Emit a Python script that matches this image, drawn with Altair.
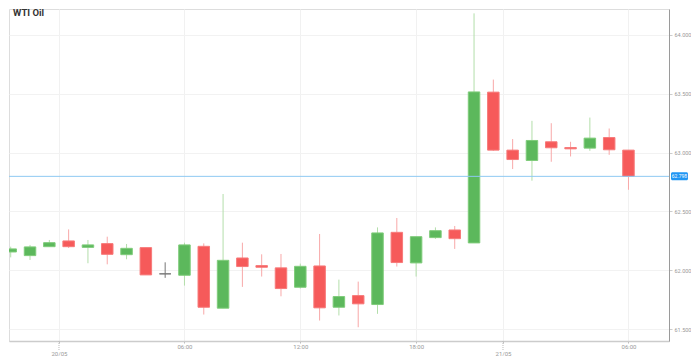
import altair as alt
import pandas as pd

# hourly candles, index 0..32
opens  = [62.155, 62.124, 62.200, 62.249, 62.194, 62.226, 62.132, 62.192, 61.969, 61.957,
          62.203, 61.677, 62.104, 62.039, 62.020, 61.855, 62.036, 61.685, 61.784, 61.708,
          62.322, 62.062, 62.277, 62.342, 62.232, 63.514, 63.021, 62.933, 63.092, 63.043,
          63.038, 63.128, 63.021]
highs  = [62.200, 62.215, 62.257, 62.347, 62.257, 62.285, 62.223, 62.192, 62.067, 62.234,
          62.228, 62.648, 62.234, 62.135, 62.138, 62.056, 62.308, 61.920, 61.903, 62.364,
          62.444, 62.285, 62.364, 62.376, 64.184, 63.621, 63.115, 63.270, 63.250, 63.092,
          63.298, 63.205, 63.021]
lows   = [62.109, 62.087, 62.200, 62.189, 62.059, 62.050, 62.093, 61.960, 61.935, 61.869,
          61.623, 61.677, 61.858, 61.946, 61.778, 61.844, 61.572, 61.615, 61.515, 61.629,
          62.031, 61.946, 62.266, 62.181, 62.232, 63.015, 62.860, 62.761, 62.922, 62.967,
          63.015, 62.981, 62.684]
closes = [62.181, 62.198, 62.234, 62.200, 62.215, 62.135, 62.186, 61.960, 61.969, 62.215,
          61.685, 62.084, 62.031, 62.025, 61.844, 62.033, 61.680, 61.776, 61.714, 62.317,
          62.065, 62.285, 62.336, 62.268, 63.516, 63.021, 62.941, 63.103, 63.041, 63.032,
          63.123, 63.024, 62.798]

tick_positions = [2.5, 9, 15, 21, 25.5, 32]
tick_labels = ["20/05", "06:00", "12:00", "18:00", "21/05", "06:00"]
date_ticks = [2.5, 25.5]
y_ticks = [61.5, 62.0, 62.5, 63.0, 63.5, 64.0]
current_price = 62.798
title_text = "WTI Oil"

rows = []
for i, (o, h, l, c) in enumerate(zip(opens, highs, lows, closes)):
    d = "up" if c > o else ("down" if c < o else "flat")
    rows.append({"i": i, "open": o, "high": h, "low": l, "close": c, "dir": d})
df = pd.DataFrame(rows)

xscale = alt.Scale(domain=[0.17, 33.84], nice=False, zero=False)
yscale = alt.Scale(domain=[61.398, 64.221], nice=False, zero=False)

label_map = "{" + ",".join(
    f"'{v}': " + (f"['', '{t}']" if v in date_ticks else f"'{t}'")
    for v, t in zip(tick_positions, tick_labels)) + "}"

xaxis = alt.Axis(
    values=tick_positions,
    labelExpr=f"{label_map}[''+datum.value]",
    grid=True, gridColor="#f1f1f1", gridWidth=1,
    domainColor="#cccccc", domainWidth=1.5,
    tickColor="#bbbbbb", tickSize=2,
    labelFontSize=6, labelColor="#999999", labelPadding=0, labelFont="Roboto",
    labelLineHeight=7, title=None)

yaxis = alt.Axis(
    orient="right", values=y_ticks, format=".3f",
    grid=True, gridColor="#f2f2f2",
    domainColor="#9a9a9a", domainWidth=1,
    tickColor="#cccccc", tickSize=3,
    labelFontSize=5.5, labelColor="#999999", labelPadding=2, labelFont="Roboto",
    title=None)

color_wick = alt.Scale(domain=["up", "down", "flat"], range=["#b3deaa", "#f8a8a8", "#777777"])
color_fill = alt.Scale(domain=["up", "down", "flat"], range=["#5cb85c", "#f65a5a", "#777777"])
color_stroke = alt.Scale(domain=["up", "down", "flat"], range=["#7fcc7a", "#f77a7a", "#777777"])

base = alt.Chart(df)

wicks = base.mark_rule(strokeWidth=1, clip=True).encode(
    x=alt.X("i:Q", scale=xscale, axis=xaxis),
    y=alt.Y("low:Q", scale=yscale, axis=yaxis),
    y2="high:Q",
    color=alt.Color("dir:N", scale=color_wick, legend=None),
)

bodies = base.mark_bar(size=11.5, clip=True, strokeWidth=1).encode(
    x=alt.X("i:Q", scale=xscale),
    y=alt.Y("open:Q", scale=yscale),
    y2="close:Q",
    fill=alt.Fill("dir:N", scale=color_fill, legend=None),
    stroke=alt.Stroke("dir:N", scale=color_stroke, legend=None),
)

ddf = pd.DataFrame({"d": date_ticks})
date_tick_marks = alt.Chart(ddf).mark_rule(color="#bbbbbb", strokeDash=[1, 1],
                                           y2Offset=9).encode(
    x=alt.X("d:Q", scale=xscale), y=alt.value("height"), y2=alt.value("height"))

pdf = pd.DataFrame({"price": [current_price], "label": [f"{current_price:.3f}"]})
pbase = alt.Chart(pdf)
price_line = pbase.mark_rule(color="#8ec9f2", strokeWidth=1).encode(
    y=alt.Y("price:Q", scale=yscale))
price_box = pbase.mark_rect(color="#2196f3", cornerRadius=1.5,
                            xOffset=2, x2Offset=19, yOffset=-4, y2Offset=4).encode(
    x=alt.value("width"), x2=alt.value("width"),
    y=alt.Y("price:Q", scale=yscale), y2="price:Q")
price_text = pbase.mark_text(color="white", fontSize=5, dx=10.5, align="center",
                             baseline="middle", font="Roboto").encode(
    x=alt.value("width"), y=alt.Y("price:Q", scale=yscale), text="label:N")

tdf = pd.DataFrame({"t": [title_text]})
title = alt.Chart(tdf).mark_text(fontSize=9.5, fontWeight="bold", color="#333333",
                                 align="left", baseline="middle", font="Roboto").encode(
    x=alt.value(4), y=alt.value(4), text="t:N")

chart = alt.layer(wicks, bodies, date_tick_marks, price_line, price_box, price_text,
                  title).properties(
    width=660, height=332, padding=0,
).configure_view(stroke="#e8e8e8").configure(background="white")

chart.save("out.html", embed_options={"renderer": "svg", "actions": False})
